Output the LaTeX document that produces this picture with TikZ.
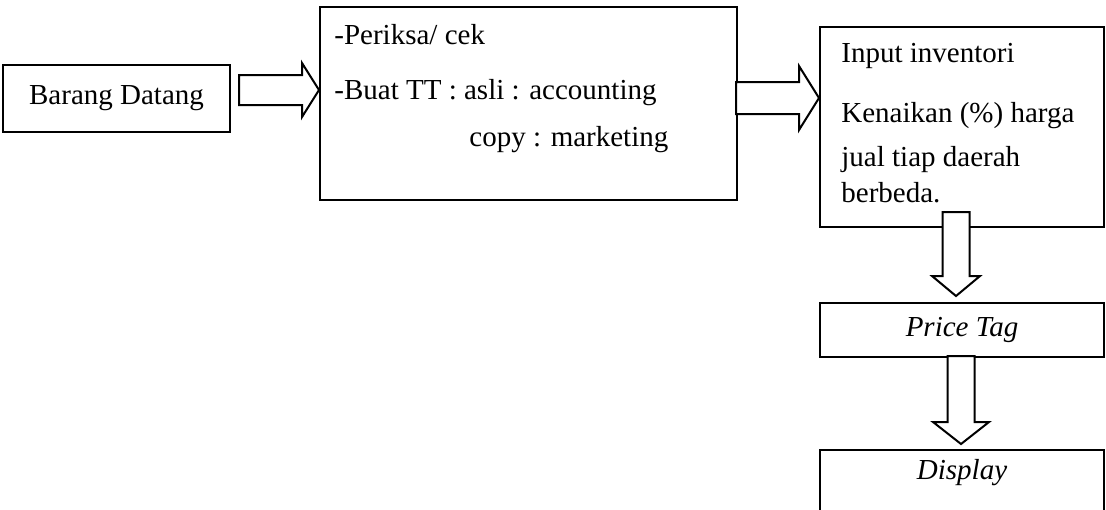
\documentclass[tikz,border=0pt]{standalone}
\usepackage{fontspec}
\setmainfont{Liberation Serif}
\usetikzlibrary{calc}
\tikzset{
  box/.style={draw, rectangle, line width=1pt, inner sep=0pt, font=\fontsize{14.5}{17}\selectfont},
  txt/.style={anchor=base west, inner sep=0pt, font=\fontsize{14.5}{17}\selectfont},
  blk/.style={draw, line width=1pt, fill=white, line join=miter},
}

\begin{document}
\begin{tikzpicture}[x=0.5pt,y=-0.5pt]
\useasboundingbox (0,0) rectangle (1106,509);
\clip (0,0) rectangle (1106,509);
% boxes
\node[box, minimum width=113.5pt, minimum height=33.5pt] (datang) at (116.5,98.5) {Barang Datang};
\node[box, minimum width=208.5pt, minimum height=96.5pt] (cek) at (528.5,103.5) {};
\node[box, minimum width=142pt, minimum height=100pt] (inv) at (962,127) {};
\node[box, minimum width=142pt, minimum height=27pt] (tag) at (962,330) {\itshape Price Tag};
\node[box, minimum width=142pt, minimum height=55pt] (display) at (962,505) {};
% box texts
\node[txt] (cek1) at ($(cek.north west)+(15,38)$) {-Periksa/ cek};
\node[txt] (cek2) at ($(cek.north west)+(15,93)$) {-Buat TT : asli : accounting};
\node[txt] (cek3) at ($(cek.north west)+(150,140)$) {copy : marketing};
\node[txt] (inv1) at ($(inv.north west)+(22,36)$) {Input inventori};
\node[txt] (inv2) at ($(inv.north west)+(22,96)$) {Kenaikan (\%) harga};
\node[txt] (inv3) at ($(inv.north west)+(22,140)$) {jual tiap daerah};
\node[txt] (inv4) at ($(inv.north west)+(22,176)$) {berbeda.};
\node[txt, anchor=base] (disptxt) at ($(display.north)+(0,30)$) {\itshape Display};
% hollow block arrows
\coordinate (a1) at ($(cek.west)+(0,-13.5)$);
\coordinate (a2) at ($(inv.west)+(0,-29)$);
\coordinate (a3) at ($(tag.north)+(-6,-6)$);
\coordinate (a4) at ($(display.north)+(-1,-5)$);
\draw[blk] (a1) -- ++(-17,-27) -- ++(0,12) -- ++(-63,0) -- ++(0,30) -- ++(63,0) -- ++(0,12) -- cycle;
\draw[blk] (a2) -- ++(-20,-32) -- ++(0,16) -- ++(-63,0) -- ++(0,32) -- ++(63,0) -- ++(0,16) -- cycle;
\draw[blk] (a3) -- ++(-24,-20) -- ++(10.5,0) -- ++(0,-64) -- ++(27,0) -- ++(0,64) -- ++(10.5,0) -- cycle;
\draw[blk] (a4) -- ++(-28,-22) -- ++(14.5,0) -- ++(0,-66) -- ++(27,0) -- ++(0,66) -- ++(14.5,0) -- cycle;
\end{tikzpicture}
\end{document}
